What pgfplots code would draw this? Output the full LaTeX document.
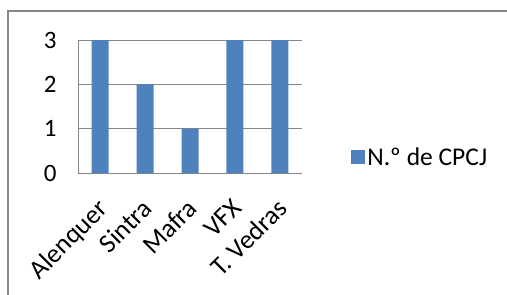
\documentclass[border=0pt]{standalone}
\usepackage{pgfplots}
\pgfplotsset{compat=1.18}
\usepackage{fontspec}
\setmainfont{Carlito}
\definecolor{barblue}{HTML}{4F81BD}
\definecolor{gridgray}{HTML}{868686}
\newcommand\bigf{\fontsize{25}{30}\selectfont}
\newcommand\labf{\fontsize{26.5}{30}\selectfont}
\newcommand\legf{\fontsize{25.5}{30}\selectfont}
\begin{document}
\begin{tikzpicture}[x=1pt,y=1pt,font=\bigf]
\useasboundingbox (0,0) rectangle (507,295);
\draw[gridgray, line width=1.2pt] (8,0) -- (8,284) -- (507,284);
\begin{axis}[
  at={(78pt,122pt)}, anchor=south west,
  scale only axis, width=224pt, height=133pt,
  xmin=-0.49, xmax=4.49, ymin=0, ymax=3,
  xtick=data,
  xticklabels={Alenquer,Sintra,Mafra,VFX,T. Vedras},
  ytick={0,1,2,3},
  /pgf/number format/assume math mode=true,
  tick label style={font=\bigf},
  ymajorgrids, grid style={gridgray, line width=0.9pt},
  axis line style={gridgray, line width=0.9pt},
  axis x line*=bottom, axis y line*=left,
  x axis line style={-}, y axis line style={-},
  major tick length=0pt,
  tick style={draw=none},
  yticklabel style={xshift=-18pt},
  xticklabel style={font=\labf, xshift=-4pt, yshift=-24pt, rotate=45, anchor=north east, inner sep=0pt},
  ybar, bar width=17pt,
  legend style={at={(1.206,0.12)}, anchor=west, draw=none, fill=none, font=\legf},
  legend image code/.code={\fill[barblue] (-13pt,-7pt) rectangle (1pt,7pt);},
]
\addplot[fill=barblue, draw=none] coordinates {(0,3) (1,2) (2,1) (3,3) (4,3)};
\addlegendentry{N.º de CPCJ}
\end{axis}
\end{tikzpicture}
\end{document}
